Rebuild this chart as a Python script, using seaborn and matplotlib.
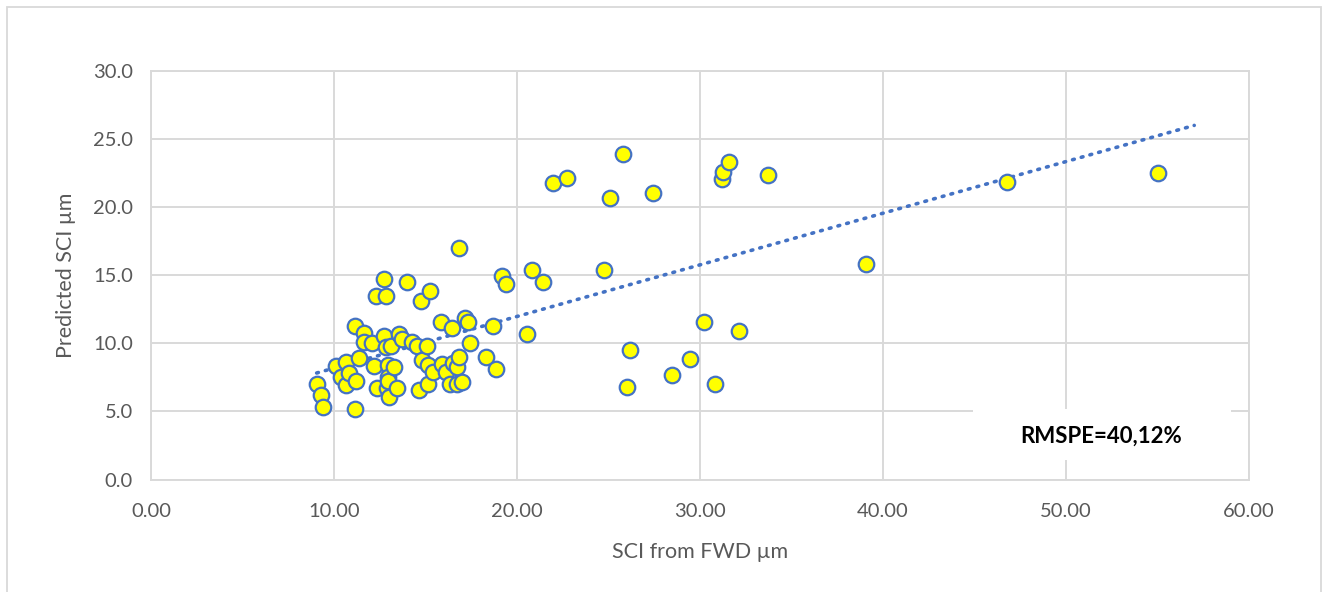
import numpy as np
import pandas as pd
import matplotlib
matplotlib.use("Agg")
import matplotlib.pyplot as plt
from matplotlib.patches import Rectangle
import seaborn as sns

# SCI measured with the falling weight deflectometer (µm)
sci_fwd = [
    9.05, 9.27, 9.38, 10.13, 10.37, 10.64, 10.66, 10.84, 11.13, 11.13,
    11.20, 11.37, 11.64, 11.66, 12.06, 12.17, 12.28, 12.33, 12.71, 12.73,
    12.82, 12.84, 12.88, 12.97, 12.97, 12.97, 13.02, 13.10, 13.28, 13.43,
    13.55, 13.70, 13.97, 14.25, 14.52, 14.66, 14.75, 14.79, 15.07, 15.15,
    15.15, 15.25, 15.39, 15.85, 15.88, 16.10, 16.34, 16.46, 16.48, 16.70,
    16.74, 16.83, 16.83, 17.01, 17.16, 17.34, 17.43, 18.29, 18.70, 18.84,
    19.20, 19.40, 20.53, 20.84, 21.44, 21.99, 22.71, 24.75, 25.08, 25.77,
    25.99, 26.17, 27.45, 28.49, 29.47, 30.22, 30.82, 31.18, 31.24, 31.60,
    32.13, 33.73, 39.07, 46.76, 55.01,
]
# SCI predicted by the model (µm)
sci_pred = [
    6.99, 6.20, 5.35, 8.33, 7.55, 6.94, 8.65, 7.80, 5.18, 11.27,
    7.23, 8.94, 10.73, 10.07, 10.00, 8.33, 13.50, 6.70, 14.72, 10.54,
    9.71, 13.50, 6.70, 8.41, 7.55, 7.20, 6.03, 9.80, 8.24, 6.70,
    10.68, 10.32, 14.52, 10.12, 9.80, 6.55, 13.13, 8.77, 9.80, 8.41,
    7.03, 13.84, 7.92, 11.59, 8.46, 7.92, 6.99, 11.15, 8.58, 7.01,
    8.28, 9.02, 16.97, 7.14, 11.84, 11.54, 10.05, 9.02, 11.27, 8.09,
    14.94, 14.33, 10.66, 15.36, 14.50, 21.79, 22.11, 15.40, 20.65, 23.90,
    6.77, 9.51, 21.06, 7.67, 8.87, 11.59, 7.04, 22.06, 22.60, 23.34,
    10.90, 22.36, 15.80, 21.82, 22.48,
]

x_ticks = [0, 10, 20, 30, 40, 50, 60]
y_ticks = [0, 5, 10, 15, 20, 25, 30]
annotation = "RMSPE=40,12%"

df = pd.DataFrame({"fwd": sci_fwd, "pred": sci_pred})

sns.set_theme(style="white")
plt.rcParams["font.family"] = ["Lato", "DejaVu Sans"]

grid_c = "#D9D9D9"
text_c = "#595959"
blue = "#4472C4"

fig = plt.figure(figsize=(13.25, 5.92), dpi=100)
ax = fig.add_axes([0.114, 0.190, 0.8286, 0.690])

# outer chart frame (its lower edge runs past the canvas)
fig.add_artist(Rectangle((7 / 1325, -0.05), 1314 / 1325, 1.05 - 7 / 592,
                         transform=fig.transFigure, fill=False,
                         edgecolor=grid_c, linewidth=1.3))

# linear trend line, extended two units forward
slope, intercept = np.polyfit(df["fwd"], df["pred"], 1)
tx = np.array([df["fwd"].min(), df["fwd"].max() + 2.0])
trend = pd.DataFrame({"x": tx, "y": intercept + slope * tx})
sns.lineplot(data=trend, x="x", y="y", ax=ax, color=blue, linewidth=2.6,
             linestyle=(0, (0.5, 2.0)), dash_capstyle="round", zorder=3)

sns.scatterplot(data=df, x="fwd", y="pred", ax=ax, s=125,
                color="#FFFF00", edgecolor=blue, linewidth=1.6, zorder=4)

ax.set_xlim(0, 60)
ax.set_ylim(0, 30)
ax.set_xticks(x_ticks)
ax.set_yticks(y_ticks)
ax.set_xticklabels([f"{v:.2f}" for v in x_ticks])
ax.set_yticklabels([f"{v:.1f}" for v in y_ticks])
ax.grid(True, color=grid_c, linewidth=1.4)
ax.set_axisbelow(True)
for s in ax.spines.values():
    s.set_color(grid_c)
    s.set_linewidth(1.4)
ax.tick_params(axis="both", length=0, labelsize=14.5, labelcolor=text_c)
ax.tick_params(axis="x", pad=17)
ax.tick_params(axis="y", pad=13)

ax.set_xlabel("SCI from FWD µm", fontsize=15.5, color=text_c, labelpad=16)
ax.set_ylabel("Predicted SCI µm", fontsize=15.5, color=text_c, labelpad=12)

# label box in the lower right of the plot area
ax.add_patch(Rectangle((44.9, 1.4), 14.1, 3.75, facecolor="white",
                       edgecolor="none", zorder=2))
ax.text(51.9, 3.2, annotation, fontsize=16, fontweight="bold", color="black",
        ha="center", va="center", zorder=5)

fig.savefig("out.png", dpi=100)
